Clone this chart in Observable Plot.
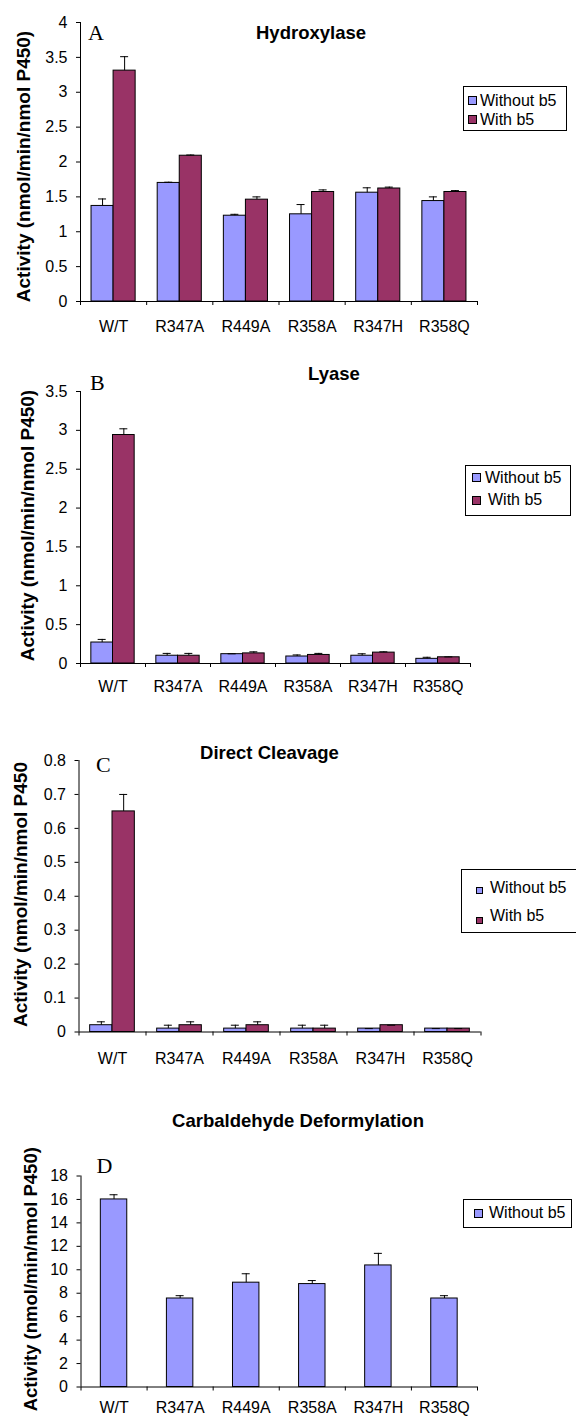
<!DOCTYPE html>
<html><head><meta charset="utf-8">
<script src="https://cdn.jsdelivr.net/npm/d3@7"></script>
<script src="https://cdn.jsdelivr.net/npm/@observablehq/plot@0.6"></script>
<style>
body{margin:0;background:#fff}
#page{position:relative;width:576px;height:1416px;overflow:hidden;background:#fff;font-family:"Liberation Sans",Arial,sans-serif;color:#000}
.abs{position:absolute;white-space:nowrap}
.title{font-weight:bold;font-size:18.5px;line-height:1;transform:translateX(-50%)}
.letter{font-family:"Liberation Serif","Times New Roman",serif;font-size:22px;line-height:1}
.ytitle{font-weight:bold;font-size:19px;line-height:19px;width:320px;text-align:center;transform:rotate(-90deg)}
.legend{border:1px solid #000;box-sizing:border-box;background:#fff}
.sw{position:absolute;border:1px solid #000;box-sizing:border-box}
.lt{position:absolute;font-size:16px;line-height:1;white-space:nowrap}
</style></head><body><div id="page"></div><script>
// ---- data ----
const categories = ["W/T","R347A","R449A","R358A","R347H","R358Q"];
const seriesNames = ["Without b5","With b5"];
const seriesColors = ["#9999FF","#993366"];

const hydroxylaseWithout    = [1.37, 1.70, 1.23, 1.25, 1.56, 1.44];
const hydroxylaseWithoutErr = [0.10, 0.01, 0.02, 0.14, 0.07, 0.06];
const hydroxylaseWith       = [3.31, 2.09, 1.46, 1.57, 1.62, 1.57];
const hydroxylaseWithErr    = [0.20, 0.01, 0.04, 0.03, 0.02, 0.02];
const hydroxylaseTicks = [0, 0.5, 1, 1.5, 2, 2.5, 3, 3.5, 4];

const lyaseWithout    = [0.27, 0.10, 0.12, 0.09, 0.10, 0.06];
const lyaseWithoutErr = [0.04, 0.03, 0.005, 0.02, 0.025, 0.02];
const lyaseWith       = [2.94, 0.10, 0.13, 0.11, 0.14, 0.08];
const lyaseWithErr    = [0.08, 0.03, 0.02, 0.02, 0.01, 0.005];
const lyaseTicks = [0, 0.5, 1, 1.5, 2, 2.5, 3, 3.5];

const cleavageWithout    = [0.02, 0.01, 0.01, 0.01, 0.01, 0.01];
const cleavageWithoutErr = [0.01, 0.01, 0.01, 0.01, 0, 0];
const cleavageWith       = [0.65, 0.02, 0.02, 0.01, 0.02, 0.01];
const cleavageWithErr    = [0.05, 0.01, 0.01, 0.01, 0, 0];
const cleavageTicks = [0, 0.1, 0.2, 0.3, 0.4, 0.5, 0.6, 0.7, 0.8];

const deformylationWithout    = [16.0, 7.55, 8.9, 8.78, 10.37, 7.55];
const deformylationWithoutErr = [0.4, 0.24, 0.76, 0.3, 1.03, 0.24];
const deformylationTicks = [0, 2, 4, 6, 8, 10, 12, 14, 16, 18];

const titles = ["Hydroxylase","Lyase","Direct Cleavage","Carbaldehyde Deformylation"];
const letters = ["A","B","C","D"];
const yTitles = ["Activity (nmol/min/nmol P450)","Activity (nmol/min/nmol P450)","Activity (nmol/min/nmol P450","Activity (nmol/min/nmol P450)"];

// ---- rendering ----
const page = document.getElementById("page");
const FONT = '"Liberation Sans", Arial, sans-serif';

function el(cls, css, text){
  const d = document.createElement("div");
  d.className = cls;
  Object.assign(d.style, css);
  if (text != null) d.textContent = text;
  page.appendChild(d);
  return d;
}

function panel(cfg){
  const {series, yTicks, top, height, mt, mb, ml, mr, xPad} = cfg;
  const width = 576;
  const bw = (width - ml - mr) / categories.length;
  const plotH = height - mt - mb;
  const n = series.length;
  const marks = [];
  series.forEach((s, k) => {
    const rows = categories.map((c, i) => ({cat: c, v: s.values[i], hi: s.values[i] + s.errs[i]}));
    let left, right;
    if (n === 2) { left = k === 0 ? 1/6 : 1/2; right = k === 0 ? 1/2 : 5/6; }
    else { left = 0.3; right = 0.7; }
    const center = (left + right) / 2;
    marks.push(Plot.barY(rows, {x: "cat", y: "v", fill: s.color, stroke: "#000", strokeWidth: 1,
      insetLeft: left * bw, insetRight: (1 - right) * bw}));
    marks.push(Plot.ruleX(rows, {x: "cat", y1: "v", y2: "hi", dx: (center - 0.5) * bw, stroke: "#000", strokeWidth: 1}));
    marks.push(Plot.tickY(rows, {x: "cat", y: "hi", insetLeft: center * bw - 4, insetRight: (1 - center) * bw - 4, stroke: "#000", strokeWidth: 1}));
  });
  marks.push(
    Plot.ruleY([yTicks[0]], {stroke: "#000"}),
    Plot.ruleX([categories[0]], {x: d => d, dx: -bw / 2, stroke: "#000"}),
    Plot.tickX(categories, {x: d => d, dx: -bw / 2, insetTop: plotH, insetBottom: -4, stroke: "#000"}),
    Plot.tickX([categories[categories.length - 1]], {x: d => d, dx: bw / 2, insetTop: plotH, insetBottom: -4, stroke: "#000"}),
    Plot.axisY({ticks: yTicks, tickSize: 4, tickPadding: 9, label: null, tickFormat: d => String(d), stroke: "#000"}),
    Plot.axisX({tickSize: 0, tickPadding: xPad, label: null})
  );
  const chart = Plot.plot({
    width, height,
    marginTop: mt, marginBottom: mb, marginLeft: ml, marginRight: mr,
    x: {type: "band", domain: categories, padding: 0, round: false},
    y: {domain: [yTicks[0], yTicks[yTicks.length - 1]], nice: false},
    style: {fontFamily: FONT, fontSize: "16px", background: "transparent", color: "#000", overflow: "visible"},
    marks
  });
  const wrap = document.createElement("div");
  Object.assign(wrap.style, {position: "absolute", left: "0px", top: top + "px"});
  wrap.appendChild(chart);
  page.appendChild(wrap);
}

function legend(box, items){
  el("abs legend", {left: box[0] + "px", top: box[1] + "px", width: box[2] + "px", height: box[3] + "px"});
  items.forEach(it => {
    el("sw", {left: it.sx + "px", top: it.sy + "px", width: it.ss + "px", height: it.ss + "px", background: it.color});
    el("lt", {left: it.tx + "px", top: (it.tb - 13.5) + "px"}, it.name);
  });
}

function yTitle(text, cx, cy, fs){
  const f = fs || 19;
  el("abs ytitle", {left: (cx - 2 - 160) + "px", top: (cy - f / 2) + "px", fontSize: f + "px", lineHeight: f + "px"}, text);
}

// Panel A
panel({series: [{values: hydroxylaseWithout, errs: hydroxylaseWithoutErr, color: seriesColors[0]},
                {values: hydroxylaseWith, errs: hydroxylaseWithErr, color: seriesColors[1]}],
       yTicks: hydroxylaseTicks, top: 0, height: 340, mt: 22, mb: 39, ml: 80, mr: 99, xPad: 19});
// Panel B
panel({series: [{values: lyaseWithout, errs: lyaseWithoutErr, color: seriesColors[0]},
                {values: lyaseWith, errs: lyaseWithErr, color: seriesColors[1]}],
       yTicks: lyaseTicks, top: 350, height: 350, mt: 41, mb: 37, ml: 80, mr: 106, xPad: 17});
// Panel C
panel({series: [{values: cleavageWithout, errs: cleavageWithoutErr, color: seriesColors[0]},
                {values: cleavageWith, errs: cleavageWithErr, color: seriesColors[1]}],
       yTicks: cleavageTicks, top: 700, height: 380, mt: 60, mb: 48.5, ml: 78.5, mr: 95.5, xPad: 21});
// Panel D
panel({series: [{values: deformylationWithout, errs: deformylationWithoutErr, color: seriesColors[0]}],
       yTicks: deformylationTicks, top: 1150, height: 266, mt: 25.5, mb: 29.5, ml: 80.5, mr: 99, xPad: 15});

// titles
el("abs title", {left: "311px", top: "23.8px"}, titles[0]);
el("abs title", {left: "334px", top: "365.3px"}, titles[1]);
el("abs title", {left: "269.5px", top: "744px"}, titles[2]);
el("abs title", {left: "298px", top: "1112.3px"}, titles[3]);

// panel letters
el("abs letter", {left: "88px", top: "21.6px"}, letters[0]);
el("abs letter", {left: "90px", top: "371.6px"}, letters[1]);
el("abs letter", {left: "96px", top: "754px"}, letters[2]);
el("abs letter", {left: "96.5px", top: "1154.6px"}, letters[3]);

// y titles
yTitle(yTitles[0], 24.5, 166);
yTitle(yTitles[1], 28.5, 525);
yTitle(yTitles[2], 22, 894);
yTitle(yTitles[3], 33, 1279, 18.5);

// legends
legend([463, 86, 104, 45], [
  {name: seriesNames[0], color: seriesColors[0], sx: 468, sy: 96, ss: 9, tx: 480, tb: 106.5},
  {name: seriesNames[1], color: seriesColors[1], sx: 468, sy: 115, ss: 9, tx: 480, tb: 125.5}
]);
legend([465, 465, 106, 51], [
  {name: seriesNames[0], color: seriesColors[0], sx: 472, sy: 473, ss: 9, tx: 485, tb: 483},
  {name: seriesNames[1], color: seriesColors[1], sx: 472, sy: 496, ss: 9, tx: 488, tb: 505}
]);
legend([461, 869, 130, 64], [
  {name: seriesNames[0], color: seriesColors[0], sx: 476, sy: 886.5, ss: 7, tx: 490, tb: 893},
  {name: seriesNames[1], color: seriesColors[1], sx: 476, sy: 916.5, ss: 7, tx: 490, tb: 921.5}
]);
legend([463, 1199, 109, 29], [
  {name: seriesNames[0], color: seriesColors[0], sx: 474, sy: 1209, ss: 9, tx: 489, tb: 1218}
]);
</script></body></html>
